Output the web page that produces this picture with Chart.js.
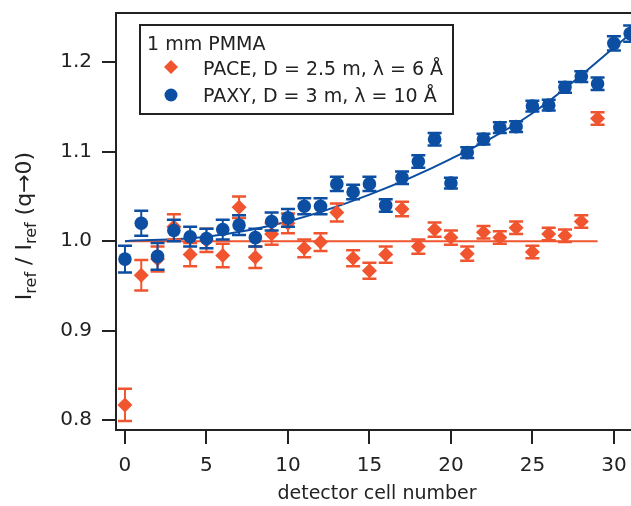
<!DOCTYPE html>
<html>
<head>
<meta charset="utf-8">
<script src="https://cdn.jsdelivr.net/npm/chart.js@4.4.0/dist/chart.umd.min.js"></script>
<style>
  html, body { margin: 0; padding: 0; background: #fff; }
</style>
</head>
<body>
<canvas id="refChart" width="631" height="506"></canvas>
<script>
// ---- data ----
var paceCells = [0, 1, 2, 3, 4, 5, 6, 7, 8, 9, 10, 11, 12, 13, 14, 15, 16, 17, 18, 19, 20, 21, 22, 23, 24, 25, 26, 27, 28, 29];
var paceVals = [0.817, 0.962, 0.980, 1.016, 0.985, 1.001, 0.984, 1.038, 0.982, 1.008, 1.020, 0.992, 0.999, 1.032, 0.981,
                0.967, 0.985, 1.036, 0.994, 1.013, 1.004, 0.986, 1.010, 1.004, 1.015, 0.988, 1.008, 1.006, 1.022, 1.137];
var paceErr = [0.018, 0.017, 0.014, 0.014, 0.013, 0.013, 0.013, 0.012, 0.012, 0.012, 0.011, 0.010, 0.010, 0.010, 0.009,
               0.009, 0.009, 0.008, 0.008, 0.008, 0.008, 0.008, 0.007, 0.007, 0.007, 0.007, 0.007, 0.007, 0.007, 0.007];

var paxyCells = [0, 1, 2, 3, 4, 5, 6, 7, 8, 9, 10, 11, 12, 13, 14, 15, 16, 17, 18, 19, 20, 21, 22, 23, 24, 25, 26, 27, 28, 29, 30, 31];
var paxyVals = [0.980, 1.020, 0.983, 1.012, 1.005, 1.003, 1.013, 1.018, 1.004, 1.022, 1.026, 1.039, 1.039, 1.064, 1.055, 1.064,
                1.040, 1.071, 1.089, 1.114, 1.065, 1.099, 1.114, 1.127, 1.128, 1.151, 1.152, 1.172, 1.184, 1.176, 1.221, 1.232];
var paxyErr = [0.015, 0.014, 0.015, 0.012, 0.011, 0.011, 0.011, 0.011, 0.010, 0.010, 0.010, 0.009, 0.009, 0.008, 0.008, 0.008,
               0.007, 0.007, 0.007, 0.007, 0.006, 0.006, 0.006, 0.006, 0.006, 0.006, 0.006, 0.006, 0.006, 0.007, 0.008, 0.009];

// fit curves
var paceFitX = [0, 29];
var paceFitY = [1.000, 1.000];
var paxyFitX = [0, 5, 10, 15, 20, 25, 31.05];
var paxyFitY = [1.000, 1.005, 1.022, 1.052, 1.092, 1.143, 1.232];

var xTicks = [0, 5, 10, 15, 20, 25, 30];
var yTicks = [0.8, 0.9, 1.0, 1.1, 1.2];

var RED = '#f0552f';
var BLUE = '#0b4ea2';
var INK = '#222222';
var FONT = '"DejaVu Sans", sans-serif';

function pts(xs, ys) {
    return xs.map(function (x, i) { return { x: x, y: ys[i] }; });
}

// error bars, drawn just under each dataset's markers
var errorBars = {
    id: 'errorBars',
    beforeDatasetDraw: function (chart, args) {
        var ds = chart.data.datasets[args.index];
        if (!ds.errors) return;
        var xs = chart.scales.x, ys = chart.scales.y, c = chart.ctx;
        c.save();
        c.strokeStyle = ds.borderColor;
        ds.data.forEach(function (p, i) {
            var px = xs.getPixelForValue(p.x);
            var top = ys.getPixelForValue(p.y + ds.errors[i]);
            var bot = ys.getPixelForValue(p.y - ds.errors[i]);
            c.lineWidth = 2;
            c.beginPath();
            c.moveTo(px, top); c.lineTo(px, bot);
            c.stroke();
            c.lineWidth = 2.5;
            c.beginPath();
            c.moveTo(px - 7, top); c.lineTo(px + 7, top);
            c.moveTo(px - 7, bot); c.lineTo(px + 7, bot);
            c.stroke();
        });
        c.restore();
    }
};

// frame top line, legend box and axis titles
var decorations = {
    id: 'decorations',
    afterDraw: function (chart) {
        var c = chart.ctx, a = chart.chartArea;
        c.save();
        c.strokeStyle = INK;
        c.lineWidth = 2;
        c.beginPath();
        c.moveTo(a.left - 1, a.top);
        c.lineTo(a.right, a.top);
        c.stroke();

        // legend
        c.fillStyle = '#fff';
        c.fillRect(140, 25, 313, 89);
        c.strokeRect(140, 25, 313, 89);
        c.fillStyle = INK;
        c.font = '19px ' + FONT;
        c.textBaseline = 'alphabetic';
        c.textAlign = 'left';
        c.fillText('1 mm PMMA', 147, 50);
        c.fillText('PACE, D = 2.5 m, \u03bb = 6 \u00c5', 203, 75);
        c.fillText('PAXY, D = 3 m, \u03bb = 10 \u00c5', 203, 102);
        c.fillStyle = RED;
        c.beginPath();
        c.moveTo(171, 60); c.lineTo(178, 67); c.lineTo(171, 74); c.lineTo(164, 67);
        c.closePath(); c.fill();
        c.fillStyle = BLUE;
        c.beginPath();
        c.arc(171, 95, 6.5, 0, Math.PI * 2);
        c.fill();

        // x title
        c.fillStyle = INK;
        c.textAlign = 'center';
        c.fillText('detector cell number', 377, 499);

        // y title with subscripts
        var parts = [['I', 22, 0], ['ref', 16, 5], [' / I', 22, 0], ['ref', 16, 5], [' (q\u21920)', 22, 0]];
        var total = 0;
        parts.forEach(function (p) { c.font = p[1] + 'px ' + FONT; total += c.measureText(p[0]).width; });
        c.translate(31, 226);
        c.rotate(-Math.PI / 2);
        c.textAlign = 'left';
        var cx = -total / 2;
        parts.forEach(function (p) {
            c.font = p[1] + 'px ' + FONT;
            c.fillText(p[0], cx, p[2]);
            cx += c.measureText(p[0]).width;
        });
        c.restore();
    }
};

var ctx = document.getElementById('refChart').getContext('2d');
var refChart = new Chart(ctx, {
    type: 'scatter',
    data: {
        datasets: [{
            label: 'PAXY, D = 3 m, \u03bb = 10 \u00c5',
            data: pts(paxyCells, paxyVals),
            errors: paxyErr,
            pointStyle: 'circle',
            pointRadius: 6.8,
            borderWidth: 0,
            backgroundColor: BLUE,
            borderColor: BLUE
        }, {
            label: 'PACE, D = 2.5 m, \u03bb = 6 \u00c5',
            data: pts(paceCells, paceVals),
            errors: paceErr,
            pointStyle: 'rectRot',
            pointRadius: 7.5,
            borderWidth: 0,
            backgroundColor: RED,
            borderColor: RED
        }, {
            type: 'line',
            label: 'PAXY fit',
            data: pts(paxyFitX, paxyFitY),
            borderColor: BLUE,
            borderWidth: 2,
            pointRadius: 0,
            cubicInterpolationMode: 'monotone',
            fill: false
        }, {
            type: 'line',
            label: 'PACE fit',
            data: pts(paceFitX, paceFitY),
            borderColor: RED,
            borderWidth: 2,
            pointRadius: 0,
            fill: false
        }]
    },
    options: {
        responsive: false,
        animation: false,
        devicePixelRatio: 1,
        layout: { autoPadding: false, padding: { top: 13, left: 0, right: 0, bottom: 0 } },
        plugins: {
            legend: { display: false },
            tooltip: { enabled: false }
        },
        scales: {
            x: {
                type: 'linear',
                min: -0.55,
                max: 31.05,
                border: { color: INK, width: 2 },
                grid: { drawOnChartArea: false, tickLength: 14, color: INK, lineWidth: 2 },
                ticks: { font: { family: FONT, size: 20 }, color: INK, padding: 10, maxRotation: 0, autoSkip: false },
                afterBuildTicks: function (s) { s.ticks = xTicks.map(function (v) { return { value: v }; }); },
                afterFit: function (s) {
                    s.height = 76;
                    s.paddingLeft = 0; s.paddingRight = 0;
                }
            },
            y: {
                type: 'linear',
                min: 0.789,
                max: 1.255,
                border: { color: INK, width: 2 },
                grid: { drawOnChartArea: false, tickLength: 14, color: INK, lineWidth: 2 },
                ticks: {
                    font: { family: FONT, size: 20 }, color: INK, padding: 10,
                    callback: function (v) { return v.toFixed(1); }
                },
                afterBuildTicks: function (s) { s.ticks = yTicks.map(function (v) { return { value: v }; }); },
                afterFit: function (s) {
                    s.width = 116;
                    s.paddingTop = 0; s.paddingBottom = 0;
                }
            }
        }
    },
    plugins: [errorBars, decorations]
});
</script>
</body>
</html>
